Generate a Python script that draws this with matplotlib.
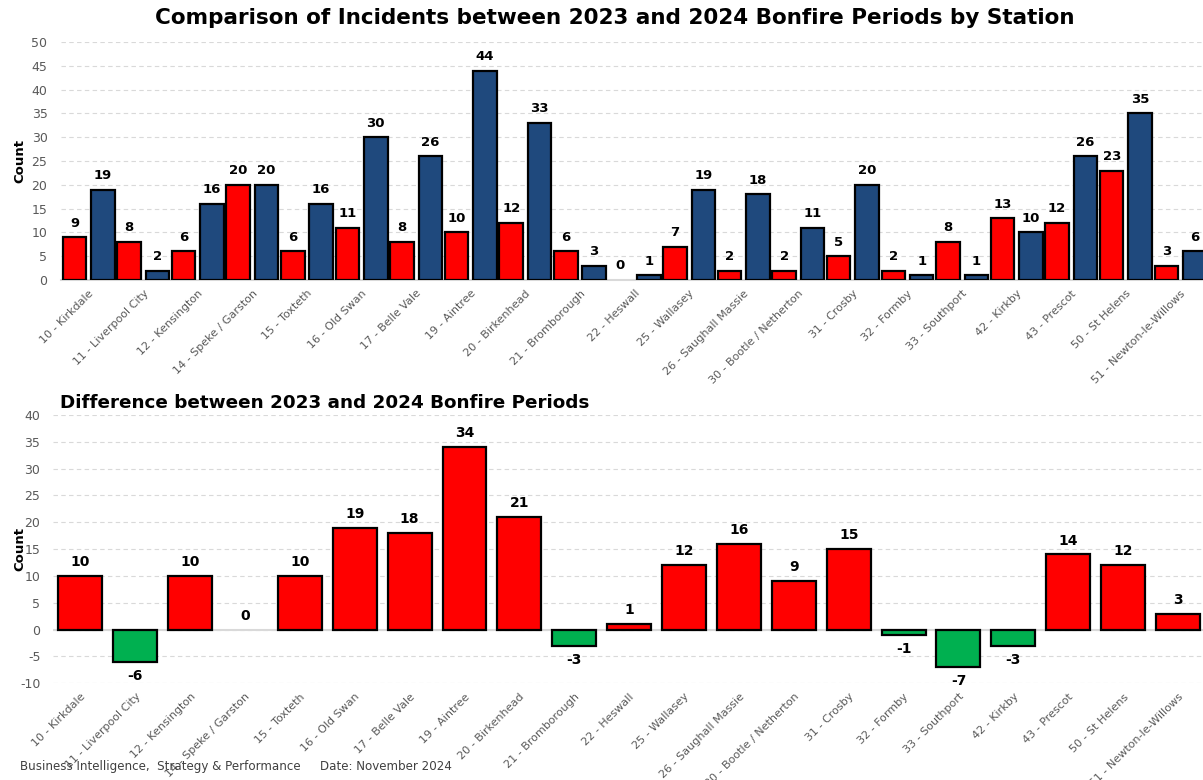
import numpy as np
import matplotlib.pyplot as plt

stations = ['10 - Kirkdale', '11 - Liverpool City', '12 - Kensington', '14 - Speke / Garston',
            '15 - Toxteth', '16 - Old Swan', '17 - Belle Vale', '19 - Aintree', '20 - Birkenhead',
            '21 - Bromborough', '22 - Heswall', '25 - Wallasey', '26 - Saughall Massie',
            '30 - Bootle / Netherton', '31 - Crosby', '32 - Formby', '33 - Southport',
            '42 - Kirkby', '43 - Prescot', '50 - St Helens', '51 - Newton-le-Willows']
count_2023 = [9, 8, 6, 20, 6, 11, 8, 10, 12, 6, 0, 7, 2, 2, 5, 2, 8, 13, 12, 23, 3]
count_2024 = [19, 2, 16, 20, 16, 30, 26, 44, 33, 3, 1, 19, 18, 11, 20, 1, 1, 10, 26, 35, 6]
difference = [10, -6, 10, 0, 10, 19, 18, 34, 21, -3, 1, 12, 16, 9, 15, -1, -7, -3, 14, 12, 3]

RED = '#FF0000'
BLUE = '#1F497D'
GREEN = '#00B050'
GREY = '#595959'
GRID = '#D9D9D9'

plt.rcParams['font.family'] = 'DejaVu Sans'
plt.rcParams['axes.unicode_minus'] = False

fig = plt.figure(figsize=(12.03, 7.8), dpi=100)
x = np.arange(len(stations))

# top chart: 2023 vs 2024
ax1 = fig.add_axes([0.051, 0.641, 0.953, 0.305])
w = 0.43
lw1 = [0 if v == 0 else 1.6 for v in count_2023]
lw2 = [0 if v == 0 else 1.6 for v in count_2024]
b1 = ax1.bar(x - 0.26, count_2023, w, color=RED, edgecolor='black', linewidth=lw1, zorder=3)
b2 = ax1.bar(x + 0.26, count_2024, w, color=BLUE, edgecolor='black', linewidth=lw2, zorder=3)
for bars in (b1, b2):
    for r in bars:
        ax1.text(r.get_x() + r.get_width() / 2, r.get_height() + 1.6, f'{int(r.get_height())}',
                 ha='center', va='bottom', fontsize=9.5, fontweight='bold')
ax1.set_xlim(-0.5, len(stations) - 0.5)
ax1.set_ylim(0, 50)
ax1.set_yticks(range(0, 51, 5))
ax1.set_xticks(x)
ax1.set_xticklabels(stations, rotation=45, ha='right', rotation_mode='anchor', fontsize=8, color=GREY)
ax1.tick_params(axis='y', labelsize=9, colors=GREY, length=0, pad=10)
ax1.tick_params(axis='x', length=0, pad=6)
ax1.yaxis.grid(True, linestyle=(0, (4, 3)), color=GRID, linewidth=0.8, zorder=0)
for s in ['top', 'right', 'left']:
    ax1.spines[s].set_visible(False)
ax1.spines['bottom'].set_color(GRID)
ax1.spines['bottom'].set_linewidth(1.5)
ax1.set_ylabel('Count', fontsize=9.5, fontweight='bold')
ax1.yaxis.set_label_coords(-0.0305, 0.5)
fig.text(0.511, 0.977, 'Comparison of Incidents between 2023 and 2024 Bonfire Periods by Station',
         ha='center', va='center', fontsize=15.5, fontweight='bold')

# bottom chart: difference
ax2 = fig.add_axes([0.044, 0.124, 0.958, 0.344])
colors = [RED if d >= 0 else GREEN for d in difference]
lw3 = [0 if d == 0 else 1.6 for d in difference]
b3 = ax2.bar(x, difference, 0.8, color=colors, edgecolor='black', linewidth=lw3, zorder=3)
for r, d in zip(b3, difference):
    if d >= 0:
        ax2.text(r.get_x() + r.get_width() / 2, d + 1.3, f'{d}', ha='center', va='bottom',
                 fontsize=10, fontweight='bold')
    else:
        ax2.text(r.get_x() + r.get_width() / 2, d - 1.3, f'{d}', ha='center', va='top',
                 fontsize=10, fontweight='bold')
ax2.set_xlim(-0.5, len(stations) - 0.5)
ax2.set_ylim(-10, 40)
ax2.set_yticks(range(-10, 41, 5))
ax2.set_xticks(x)
ax2.set_xticklabels(stations, rotation=45, ha='right', rotation_mode='anchor', fontsize=8, color=GREY)
ax2.tick_params(axis='y', labelsize=9, colors=GREY, length=0, pad=9)
ax2.tick_params(axis='x', length=0, pad=6)
ax2.yaxis.grid(True, linestyle=(0, (4, 3)), color=GRID, linewidth=0.8, zorder=0)
ax2.axhline(0, color=GRID, linewidth=1.5, zorder=2)
for s in ax2.spines.values():
    s.set_visible(False)
ax2.set_ylabel('Count', fontsize=9.5, fontweight='bold')
ax2.yaxis.set_label_coords(-0.0234, 0.5)
ax2.text(0.006, 1.01, 'Difference between 2023 and 2024 Bonfire Periods', transform=ax2.transAxes,
         ha='left', va='bottom', fontsize=13.2, fontweight='bold')

fig.text(0.017, 0.009, 'Business Intelligence,  Strategy & Performance', fontsize=8.6, color='#404040',
         ha='left', va='bottom')
fig.text(0.266, 0.009, 'Date: November 2024', fontsize=8.6, color='#404040', ha='left', va='bottom')

fig.savefig('out.png', dpi=100)
